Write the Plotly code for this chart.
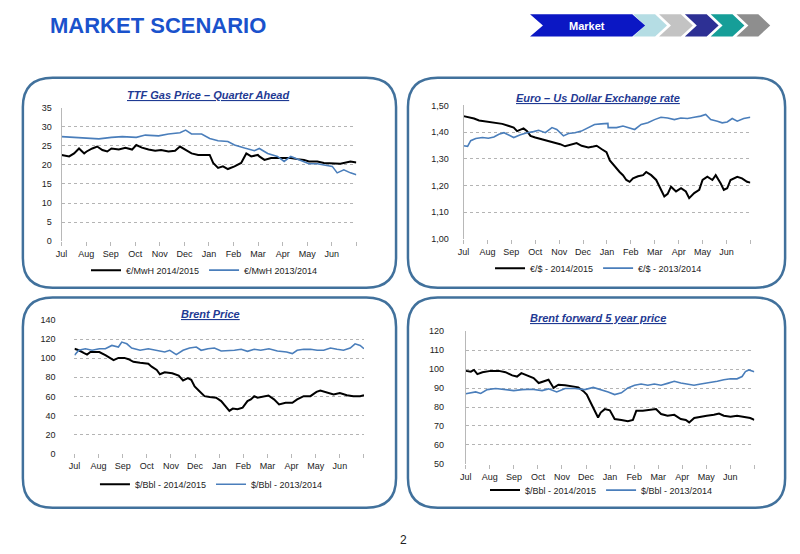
import plotly.graph_objects as go

W, H = 800, 554

months = ["Jul", "Aug", "Sep", "Oct", "Nov", "Dec", "Jan", "Feb", "Mar", "Apr", "May", "Jun", ""]

# TTF gas price (x in months since 1 July)
ttf_x_1415 = [0, 0.31, 0.51, 0.71, 0.92, 1.02, 1.25, 1.45, 1.66, 1.86, 2.03, 2.33, 2.6, 2.87, 3.04,
              3.27, 3.54, 3.81, 4.05, 4.35, 4.62, 4.82, 5.05, 5.29, 5.56, 5.83, 6.03, 6.17, 6.37,
              6.57, 6.77, 7.04, 7.31, 7.52, 7.72, 7.99, 8.05, 8.26, 8.53, 8.79, 9.06, 9.33, 9.6,
              9.87, 10.07, 10.41, 10.68, 11.02, 11.35, 11.76, 12]
ttf_y_1415 = [22.6, 22.2, 23, 24.3, 23, 23.5, 24.3, 24.8, 23.9, 23.5, 24.3, 24, 24.5, 24, 25.2,
              24.5, 24, 23.7, 23.9, 23.5, 23.7, 24.8, 23.9, 23, 22.6, 22.6, 22.6, 20.5, 19.2,
              19.6, 18.9, 19.6, 20.5, 23, 22.2, 22.6, 22.2, 21.3, 21.8, 21.8, 21.8, 21.8, 21.5,
              21.3, 20.9, 20.9, 20.5, 20.3, 20.3, 20.9, 20.6]
ttf_x_1314 = [0, 0.58, 1.02, 1.52, 2.03, 2.47, 3.04, 3.41, 3.95, 4.35, 4.82, 5.05, 5.29, 5.7,
              6.03, 6.37, 6.77, 7.04, 7.45, 7.85, 8.05, 8.39, 8.79, 9.06, 9.33, 9.6, 10.07,
              10.41, 10.68, 11.02, 11.22, 11.49, 11.76, 12]
ttf_y_1314 = [27.4, 27.2, 26.9, 26.8, 27.2, 27.4, 27.2, 27.8, 27.6, 28.1, 28.4, 29.1, 28.1, 28.1,
              26.9, 26.3, 26.1, 25.2, 24.4, 23.7, 24.3, 23, 22.2, 20.9, 22.2, 21.5, 20.3,
              20.3, 20, 19.6, 17.9, 18.7, 17.9, 17.4]

# Euro / US dollar
fx_x_1415 = [0, 0.24, 0.44, 0.65, 0.86, 1.04, 1.34, 1.62, 1.9, 2.1, 2.24, 2.37, 2.51, 2.66,
             2.8, 3.0, 3.27, 3.55, 3.83, 4.04, 4.25, 4.53, 4.73, 4.94, 5.22, 5.43, 5.57, 5.77,
             5.98, 6.12, 6.33, 6.53, 6.67, 6.81, 6.95, 7.09, 7.3, 7.51, 7.64, 7.85, 8.06, 8.19,
             8.4, 8.54, 8.68, 8.89, 9.1, 9.3, 9.44, 9.65, 9.86, 10.0, 10.2, 10.41, 10.55, 10.76,
             10.89, 11.03, 11.17, 11.45, 11.65, 11.86, 12]
fx_y_1415 = [1.46, 1.456, 1.451, 1.444, 1.441, 1.437, 1.435, 1.431, 1.423, 1.417, 1.404, 1.41,
             1.414, 1.404, 1.386, 1.38, 1.374, 1.368, 1.359, 1.355, 1.347, 1.355, 1.359, 1.349,
             1.343, 1.346, 1.349, 1.337, 1.325, 1.294, 1.27, 1.251, 1.239, 1.221, 1.214, 1.227,
             1.235, 1.239, 1.251, 1.239, 1.221, 1.196, 1.159, 1.169, 1.196, 1.178, 1.19, 1.178,
             1.153, 1.172, 1.184, 1.221, 1.233, 1.221, 1.239, 1.208, 1.184, 1.19, 1.221, 1.233,
             1.227, 1.214, 1.211]
fx_x_1314 = [0, 0.17, 0.3, 0.51, 0.79, 1.04, 1.27, 1.48, 1.69, 1.9, 2.1, 2.38, 2.66, 2.93,
             3.14, 3.42, 3.7, 3.9, 4.18, 4.39, 4.66, 4.93, 5.21, 5.48, 5.76, 6.04, 6.05, 6.4,
             6.67, 6.95, 7.16, 7.43, 7.71, 7.99, 8.26, 8.54, 8.82, 9.09, 9.37, 9.65, 9.92, 10.13,
             10.34, 10.62, 10.82, 11.03, 11.24, 11.45, 11.72, 12]
fx_y_1314 = [1.349, 1.347, 1.368, 1.376, 1.38, 1.377, 1.382, 1.392, 1.398, 1.39, 1.38, 1.39,
             1.398, 1.402, 1.407, 1.398, 1.417, 1.41, 1.386, 1.395, 1.398, 1.404, 1.417, 1.429,
             1.431, 1.433, 1.417, 1.417, 1.423, 1.417, 1.41, 1.429, 1.435, 1.447, 1.456,
             1.453, 1.447, 1.453, 1.451, 1.456, 1.46, 1.466, 1.447, 1.441, 1.435, 1.438, 1.451,
             1.441, 1.451, 1.456]

# Brent price
br_x_1415 = [0, 0.18, 0.38, 0.52, 0.66, 1.03, 1.28, 1.48, 1.62, 1.82, 2.07, 2.24, 2.44, 2.72,
             3.06, 3.2, 3.41, 3.54, 3.74, 4.05, 4.32, 4.5, 4.7, 4.84, 4.98, 5.18, 5.39, 5.6,
             5.87, 6.08, 6.28, 6.42, 6.56, 6.76, 6.97, 7.17, 7.31, 7.45, 7.59, 7.79, 8.04,
             8.27, 8.48, 8.75, 9.03, 9.23, 9.5, 9.78, 10.03, 10.19, 10.47, 10.74, 11.0, 11.29,
             11.56, 11.84, 12]
br_y_1415 = [110, 108.4, 105.6, 103.9, 106.6, 106.6, 103.2, 100.4, 98, 100.4, 100.4, 99, 96.3,
             95.3, 94.3, 91.2, 87.7, 83.2, 85.3, 84.3, 81.9, 76.7, 79.1, 77.4, 70.5, 65.4, 60.2,
             59.2, 58.5, 55, 48.2, 44.7, 47.1, 46.4, 48.2, 55, 56.8, 60.2, 58.5, 59.5, 60.9,
             56.8, 51.6, 53.3, 53.3, 56.8, 60.2, 60.2, 64.7, 66, 64.3, 61.9, 63.6, 61.2, 60.2,
             60.2, 61.2]
br_x_1314 = [0, 0.18, 0.45, 0.73, 1.03, 1.28, 1.55, 1.82, 1.96, 2.17, 2.37, 2.72, 3.06, 3.4,
             3.74, 3.95, 4.22, 4.5, 4.77, 5.05, 5.25, 5.53, 5.8, 6.08, 6.35, 6.63, 6.91, 7.17,
             7.45, 7.72, 8.06, 8.41, 8.79, 9.03, 9.23, 9.5, 9.78, 10.06, 10.33, 10.61, 10.88,
             11.15, 11.43, 11.63, 11.84, 12]
br_y_1314 = [103.2, 108.4, 110, 108.4, 110, 110, 113.5, 111.8, 117, 115.2, 110.8, 108.4, 110,
             108.4, 106.6, 108.4, 103.9, 108.4, 110.8, 111.8, 108.4, 110, 110.8, 107.7, 107.7,
             108.4, 109.4, 107.3, 109.4, 108.4, 110, 107.7, 106.6, 104.9, 108.4, 109.4, 109.4,
             108.4, 108.4, 110.8, 109.4, 108.4, 110.8, 115.2, 113.5, 110]

# Brent forward 5 year
bf_x_1415 = [0, 0.21, 0.34, 0.48, 0.69, 1.03, 1.38, 1.65, 1.93, 2.13, 2.31, 2.55, 2.82, 3.03,
             3.23, 3.44, 3.65, 3.85, 4.13, 4.4, 4.68, 4.89, 5.03, 5.16, 5.37, 5.5, 5.61, 5.78,
             5.99, 6.19, 6.47, 6.74, 6.95, 7.09, 7.36, 7.64, 7.91, 8.12, 8.39, 8.67, 8.94, 9.15,
             9.29, 9.5, 9.77, 10.02, 10.32, 10.53, 10.73, 11.01, 11.28, 11.56, 11.83, 12]
bf_y_1415 = [99.1, 98.7, 99.6, 97.4, 98.4, 99.1, 99.1, 98.4, 96.7, 96.1, 97.9, 96.7, 95.3,
             92.7, 93.6, 94.4, 90.1, 91.8, 91.5, 91, 90.4, 88.4, 86.6, 83.2, 78, 74.5, 77.1, 78.9,
             78.3, 73.7, 73.2, 72.5, 73.2, 78, 78, 78.3, 78.9, 76.3, 75.4, 75.9, 73.7, 73.2,
             71.9, 74.2, 74.9, 75.4, 75.9, 76.6, 75.4, 74.9, 75.4, 74.9, 74.2, 73.2]
bf_x_1314 = [0, 0.21, 0.41, 0.62, 0.89, 1.24, 1.65, 1.99, 2.34, 2.75, 3.17, 3.44, 3.78, 4.13,
             4.54, 4.95, 5.3, 5.64, 5.92, 6.19, 6.47, 6.74, 7.02, 7.29, 7.57, 7.84, 8.12, 8.39,
             8.67, 8.94, 9.22, 9.49, 9.77, 10.05, 10.46, 10.73, 11.01, 11.28, 11.49, 11.63,
             11.77, 12]
bf_y_1314 = [87, 87.5, 88, 87.2, 89.2, 89.8, 89.2, 88.7, 89.2, 89.4, 88.7, 89.6, 88, 89.8,
             89.8, 89.2, 90.4, 89.2, 88, 86.6, 87.5, 90.1, 91.5, 92.2, 91.5, 92.2, 91.5, 92.5,
             93.6, 92.7, 92.2, 91.5, 92.2, 92.7, 93.6, 94.4, 94.9, 94.9, 96.1, 98.7, 99.6, 98.7]

BLACK = "#000000"
BLUE = "#4a7ebb"
BORDER = "#41719c"
TITLE_BLUE = "#1f3a93"


def px(x):
    return x / W


def py(y):
    return 1 - y / H


def rounded(x0, y0, x1, y1, r):
    X0, X1 = px(x0), px(x1)
    Y0, Y1 = py(y0), py(y1)
    rx, ry = r / W, r / H
    return (f"M {X0+rx},{Y0} L {X1-rx},{Y0} Q {X1},{Y0} {X1},{Y0-ry} "
            f"L {X1},{Y1+ry} Q {X1},{Y1} {X1-rx},{Y1} L {X0+rx},{Y1} "
            f"Q {X0},{Y1} {X0},{Y1+ry} L {X0},{Y0-ry} Q {X0},{Y0} {X0+rx},{Y0} Z")


fig = go.Figure()

charts = [
    # suffix, x0, x1, ytop, ybottom, yrange, dtick, fmt, series, legend, labels, y line, standoff
    ("", 56, 353, 104.5, 240.5, [0, 35], 5, "d",
     [(ttf_x_1415, ttf_y_1415), (ttf_x_1314, ttf_y_1314)], "legend",
     ["€/MwH 2014/2015", "€/MwH 2013/2014"], True, 7),
    ("2", 461, 750, 102.3, 238.3, [1.0, 1.5], 0.1, ".2f",
     [(fx_x_1415, fx_y_1415), (fx_x_1314, fx_y_1314)], "legend2",
     ["€/$ - 2014/2015", "€/$ - 2013/2014"], True, 12),
    ("3", 69, 360.7, 321, 456.7, [0, 140], 20, "d",
     [(br_x_1415, br_y_1415), (br_x_1314, br_y_1314)], "legend3",
     ["$/Bbl - 2014/2015", "$/Bbl - 2013/2014"], False, 18),
    ("4", 463.3, 754, 332.3, 467.3, [50, 120], 10, "d",
     [(bf_x_1415, bf_y_1415), (bf_x_1314, bf_y_1314)], "legend4",
     ["$/Bbl - 2014/2015", "$/Bbl - 2013/2014"], True, 19),
]

for suf, x0, x1, yt, yb, yr, dt, fmt, series, leg, labels, showline, standoff in charts:
    (xa, ya), (xb, yb_) = series
    fig.add_trace(go.Scatter(x=xa, y=ya, mode="lines", name=labels[0],
                             line=dict(color=BLACK, width=2),
                             xaxis="x" + suf, yaxis="y" + suf, legend=leg))
    fig.add_trace(go.Scatter(x=xb, y=yb_, mode="lines", name=labels[1],
                             line=dict(color=BLUE, width=1.6),
                             xaxis="x" + suf, yaxis="y" + suf, legend=leg))
    fig.layout["xaxis" + suf] = dict(
        domain=[px(x0), px(x1)], range=[0, 12], anchor="y" + suf,
        tickvals=list(range(13)), ticktext=months, ticks="outside", ticklen=4,
        tickcolor="#b8b8b8", showgrid=False, zeroline=False, showline=False,
        tickfont=dict(size=9, color="#222"), fixedrange=True)
    fig.layout["yaxis" + suf] = dict(
        domain=[py(yb), py(yt)], range=yr, dtick=dt, tickformat=fmt, anchor="x" + suf,
        showgrid=True, gridcolor="#b4b4b4", griddash="dot", gridwidth=1,
        zeroline=False, showline=showline, linecolor="#b8b8b8", linewidth=1,
        ticks="", ticklabelstandoff=standoff,
        tickfont=dict(size=9, color="#222"), fixedrange=True)

legend_pos = {"legend": (200, 270), "legend2": (597, 268), "legend3": (207, 488), "legend4": (600, 494)}
for key, (lx, ly) in legend_pos.items():
    fig.layout[key] = dict(orientation="h", x=px(lx), y=py(ly), xanchor="center", yanchor="middle",
                           font=dict(size=9, color="#222"), bgcolor="rgba(0,0,0,0)",
                           itemwidth=30, tracegroupgap=0)

shapes = []
for x0, y0, x1, y1 in [(17, 74, 393, 288), (405, 74, 785, 288), (17, 298, 393, 512), (405, 298, 785, 512)]:
    shapes.append(dict(type="path", path=rounded(x0, y0, x1, y1, 30), xref="paper", yref="paper",
                       line=dict(color=BORDER, width=2.5), fillcolor="rgba(0,0,0,0)", layer="below"))


def chevron(L, R, top, bot, depth):
    mid = (top + bot) / 2
    pts = [(L, top), (R - depth, top), (R, mid), (R - depth, bot), (L, bot), (L + depth, mid)]
    return "M " + " L ".join(f"{px(a)},{py(b)}" for a, b in pts) + " Z"


chev_colors = ["#b5dde4", "#c3c3c3", "#2d3094", "#169e98", "#8e8e8e"]
for k in range(len(chev_colors) - 1, -1, -1):
    L = 632 + 26 * k
    shapes.append(dict(type="path", path=chevron(L, L + 34, 9.5, 32, 12), xref="paper", yref="paper",
                       line=dict(width=0), fillcolor=chev_colors[k]))
shapes.append(dict(type="path", path=chevron(528, 644, 9.5, 32, 13), xref="paper", yref="paper",
                   line=dict(width=0), fillcolor="#0b17c4"))

annotations = [
    dict(text="<b>MARKET SCENARIO</b>", x=px(42), y=py(21), xanchor="left", yanchor="middle",
         font=dict(family="Liberation Sans, Arial", size=22, color="#1a52cc")),
    dict(text="<b>Market</b>", x=px(585), y=py(21), xanchor="center", yanchor="middle",
         font=dict(size=11, color="white")),
    dict(text="2", x=px(400), y=py(545), xanchor="center", yanchor="middle",
         font=dict(size=12, color="#222")),
]
for t, x, y in [("TTF Gas Price – Quarter Ahead", 204, 92), ("Euro – Us Dollar Exchange rate", 596, 95),
                ("Brent Price", 206, 315), ("Brent forward 5 year price", 596, 319)]:
    annotations.append(dict(text=f"<u><i><b>{t}</b></i></u>", x=px(x), y=py(y), xanchor="center",
                            yanchor="middle", font=dict(size=11, color=TITLE_BLUE)))
for a in annotations:
    a.update(xref="paper", yref="paper", showarrow=False)

fig.update_layout(
    width=W, height=H, margin=dict(l=0, r=0, t=0, b=0),
    paper_bgcolor="white", plot_bgcolor="white",
    font=dict(family="Liberation Sans, Arial", color="#222"),
    separators=", ",
    shapes=shapes, annotations=annotations, showlegend=True,
)

fig.write_html("out.html", config={"displayModeBar": False},
               post_script="document.body.style.margin='0';")
